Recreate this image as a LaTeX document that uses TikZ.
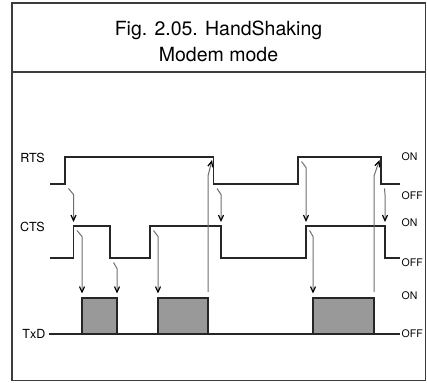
\documentclass[tikz,border=0pt]{standalone}
\usepackage{fontspec}
\setmainfont{TeX Gyre Heros}
\definecolor{framegray}{RGB}{60, 60, 60}
\definecolor{boxgray}{RGB}{153, 153, 153}
\definecolor{causegray}{RGB}{110, 110, 110}
\usetikzlibrary{arrows.meta, positioning, calc}
\tikzset{
    framebox/.style={line width=1.4pt, draw=framegray},
    signal/.style={line width=1.2pt, draw=black!85},
    txbox/.style={draw=black!85, line width=1.2pt, fill=boxgray, minimum height=36pt, anchor=south west, inner sep=0pt, outer sep=0pt},
    cause/.style={draw=causegray, line width=1pt, -{Straight Barb[length=5.5pt, width=5pt, line width=1.2pt, color=black]}},
    siglabel/.style={font=\fontsize{12.5}{14}\selectfont, anchor=east, inner sep=0pt},
    levellabel/.style={font=\fontsize{10.5}{12}\selectfont, anchor=west, inner sep=0pt},
    titletext/.style={font=\fontsize{19.5}{26.5}\selectfont, align=center},
}

\begin{document}
\begin{tikzpicture}[x=1pt, y=1pt]
                \useasboundingbox (0,0) rectangle (427,382);
                % Frame and title
                \draw[framebox] (12,1.3) rectangle (425.5,379);
                \draw[framebox] (12,310) -- (425.5,310);
                \node[titletext] (title) at (218.5,340.5) {Fig. 2.05. HandShaking\\Modem mode};
                
                % Edge points
                \coordinate (rStart) at (50,198);
                \coordinate (rA) at (65,198);
                \coordinate (rB) at (213.5,225);
                \coordinate (rC) at (213.5,198);
                \coordinate (rD) at (298,225);
                \coordinate (rE) at (381,225);
                \coordinate (rF) at (381,198);
                \coordinate (rEnd) at (400,198);
                \coordinate (cStart) at (50,124);
                \coordinate (cA) at (73.5,156);
                \coordinate (cB) at (110,124);
                \coordinate (cC) at (150,156);
                \coordinate (cD) at (221,156);
                \coordinate (cE) at (306,156);
                \coordinate (cF) at (385,156);
                \coordinate (cEnd) at (400,124);
                \coordinate (tStart) at (49,48);
                \coordinate (tEnd) at (400,48);
                
                % Signals
                \draw[signal] (rStart) -- (rA) |- (rB) -- (rC) -| (rD) -- (rE) -- (rF) -- (rEnd);
                \draw[signal] (cStart) -| (cA) -| (cB) -| (cC) -- (cD) -- (cD |- cB) -| (cE) -- (cF) -- (cF |- cEnd) -- (cEnd);
                \node[txbox, minimum width=35pt] (tx1) at (82,48) {};
                \node[txbox, minimum width=50pt] (tx2) at (158,48) {};
                \node[txbox, minimum width=61pt] (tx3) at (313,48) {};
                \draw[signal] (tStart) -- (tEnd);
                
                % Labels
                \node[siglabel] (rts) at (45,224) {RTS};
                \node[siglabel] (cts) at (45,155.5) {CTS};
                \node[siglabel] (txd) at (45.5,48) {TxD};
                \node[levellabel] (rtsOn) at (401.5,225.3) {ON};
                \node[levellabel] (rtsOff) at (401.5,186) {OFF};
                \node[levellabel] (ctsOn) at (401.5,159) {ON};
                \node[levellabel] (ctsOff) at (401.5,119) {OFF};
                \node[levellabel] (txdOn) at (401.5,86.3) {ON};
                \node[levellabel] (txdOff) at (401.5,48) {OFF};
                
                % Handshake arrows
                \draw[cause] ([shift={(3.5,-4.5)}]rA) -- ([yshift=-10.5pt]rA -| cA) -- ([yshift=4pt]cA);
                \draw[cause] ([shift={(3.5,-4.5)}]cA) -- ([yshift=-10.5pt]cA -| tx1.north west) -- ([yshift=4.5pt]tx1.north west);
                \draw[cause] ([shift={(3.5,-4.5)}]cB) -- ([yshift=-10.5pt]cB -| tx1.north east) -- ([yshift=4.5pt]tx1.north east);
                \draw[cause] ([shift={(3.5,-4.5)}]cC) -- ([yshift=-10.5pt]cC -| tx2.north west) -- ([yshift=4.5pt]tx2.north west);
                \draw[cause] ([yshift=6pt]tx2.north east) -- ([yshift=-19pt]rB -| tx2.north east) -- ([shift={(-1.5,-3)}]rB);
                \draw[cause] ([shift={(3.5,-4.5)}]rC) -- ([yshift=-10.5pt]rC -| cD) -- ([yshift=4pt]cD);
                \draw[cause] ([shift={(3.5,-4.5)}]rD) -- ([yshift=-10.5pt]rD -| cE) -- ([yshift=4pt]cE);
                \draw[cause] ([shift={(3.5,-4.5)}]cE) -- ([yshift=-10.5pt]cE -| tx3.north west) -- ([yshift=4.5pt]tx3.north west);
                \draw[cause] ([yshift=6pt]tx3.north east) -- ([yshift=-19pt]rE -| tx3.north east) -- ([shift={(-1.5,-3)}]rE);
                \draw[cause] ([shift={(3.5,-4.5)}]rF) -- ([yshift=-10.5pt]rF -| cF) -- ([yshift=4pt]cF);
            \end{tikzpicture}
\end{document}
